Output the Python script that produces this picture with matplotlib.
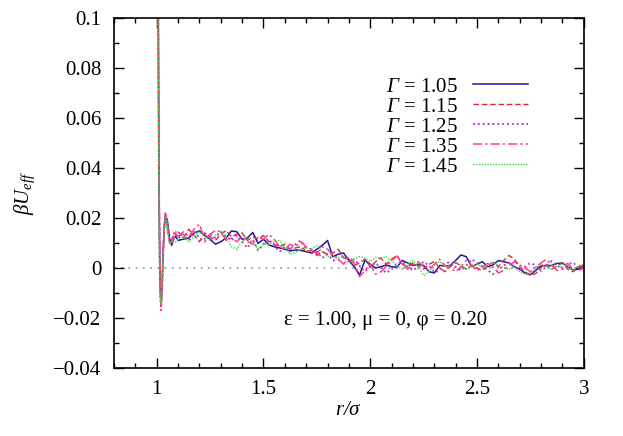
import numpy as np
import matplotlib
matplotlib.use("Agg")
import matplotlib.pyplot as plt
from matplotlib.ticker import MultipleLocator, FuncFormatter

plt.rcParams['font.family'] = ['Liberation Serif', 'DejaVu Serif']
# all math symbols italic (like gnuplot's Times-Italic), incl. capital Gamma
plt.rcParams['mathtext.fontset'] = 'custom'
plt.rcParams['mathtext.rm'] = 'Liberation Serif:italic'
plt.rcParams['mathtext.it'] = 'Liberation Serif:italic'
plt.rcParams['font.size'] = 15

# r/sigma sample points: fine near contact, then every 0.025
r_core = [1.0, 1.005, 1.01, 1.015, 1.02, 1.025, 1.03, 1.035, 1.04, 1.045,
          1.05, 1.06, 1.07, 1.08, 1.09, 1.1]
r_tail = np.round(np.arange(1.125, 3.0001, 0.025), 3)
r = np.concatenate([r_core, r_tail])

gammas = ['1.05', '1.15', '1.25', '1.35', '1.45']

u_105 = [0.35, 0.15, 0.04, -0.005, -0.015, -0.008, 0.006, 0.016, 0.020, 0.020,
         0.019, 0.012, 0.009, 0.012, 0.0125, 0.011,
         0.0115, 0.012, 0.014, 0.0148, 0.013, 0.0115, 0.0095, 0.0105,
         0.012, 0.0148, 0.0145, 0.0115, 0.012, 0.0142, 0.0098, 0.0115,
         0.0092, 0.0085, 0.008, 0.0075, 0.0068, 0.0072, 0.007, 0.0065,
         0.006, 0.0075, 0.009, 0.011, 0.0045, 0.0055, 0.006, 0.003,
         0.0005, -0.0028, 0.003, 0.0015, 0.0, 0.0005, 0.0012, 0.0005,
         0.0003, 0.003, 0.002, 0.001, 0.0015, 0.001, -0.0015, -0.002,
         0.001, 0.0008, 0.001, 0.003, 0.0052, 0.0045, 0.0005, 0.0015,
         0.0025, 0.0005, 0.0012, 0.003, 0.0025, 0.002, 0.0005, -0.0005,
         -0.002, -0.0027, -0.001, 0.001, 0.0008, 0.001, 0.0018, 0.002,
         0.0005, -0.0008, -0.0005, 0.0008]

u_115 = [0.40, 0.16, 0.045, -0.003, -0.013, -0.006, 0.007, 0.017, 0.021, 0.020,
         0.016, 0.010, 0.011, 0.014, 0.013, 0.0145,
         0.012, 0.0155, 0.013, 0.0105, 0.014, 0.0125, 0.011, 0.0135,
         0.015, 0.0125, 0.0135, 0.014, 0.011, 0.0125, 0.0115, 0.013,
         0.0105, 0.0095, 0.0085, 0.0095, 0.0075, 0.008, 0.0085, 0.0065,
         0.007, 0.005, 0.0065, 0.0055, 0.006, 0.0075, 0.004, 0.0035,
         0.001, 0.002, 0.0035, 0.0005, 0.0025, 0.004, 0.0015, 0.0035,
         0.005, 0.0015, 0.0005, 0.002, 0.0008, -0.0005, 0.0015, 0.0025,
         0.0, -0.0015, 0.0005, 0.002, 0.001, -0.0005, 0.0012, 0.0,
         -0.001, 0.001, 0.0022, 0.0005, 0.003, 0.005, 0.0035, 0.0005,
         -0.0015, -0.003, -0.0022, 0.0003, 0.0015, -0.0005, 0.001, 0.002,
         -0.0005, -0.0015, 0.0005, 0.001]

u_125 = [0.38, 0.14, 0.035, -0.008, -0.016, -0.009, 0.004, 0.014, 0.019, 0.020,
         0.017, 0.011, 0.0095, 0.0125, 0.0135, 0.012,
         0.0135, 0.011, 0.0145, 0.012, 0.0105, 0.0135, 0.012, 0.0145,
         0.0125, 0.011, 0.013, 0.0105, 0.008, 0.0115, 0.007, 0.0095,
         0.0115, 0.009, 0.0065, 0.0085, 0.0075, 0.0095, 0.011, 0.0072,
         0.0058, 0.0065, 0.004, 0.0055, 0.003, 0.0032, 0.005, 0.0025,
         0.0035, 0.001, -0.0015, 0.0005, 0.002, 0.0, -0.002, -0.0005,
         0.0018, 0.0025, 0.0005, -0.001, 0.0005, 0.0025, 0.001, -0.0018,
         -0.001, 0.0015, 0.0025, 0.0005, -0.001, 0.001, 0.0035, 0.002,
         0.0005, -0.0008, -0.0025, -0.0008, 0.001, 0.002, 0.0005, -0.001,
         0.0005, 0.002, 0.001, -0.0012, 0.0005, 0.0028, 0.001, -0.0005,
         0.0015, 0.0022, 0.0, 0.0005]

u_135 = [0.42, 0.17, 0.05, -0.002, -0.017, -0.010, 0.005, 0.016, 0.022, 0.021,
         0.017, 0.010, 0.0105, 0.013, 0.0145, 0.0125,
         0.0145, 0.0125, 0.0155, 0.0175, 0.0115, 0.0135, 0.015, 0.0145,
         0.011, 0.012, 0.0105, 0.0125, 0.0105, 0.0095, 0.0125, 0.0115,
         0.0135, 0.0115, 0.0085, 0.0075, 0.0095, 0.0085, 0.0105, 0.0085,
         0.0075, 0.0055, 0.0085, 0.0075, 0.005, 0.0035, 0.0015, 0.0045,
         0.002, -0.0035, -0.001, 0.0015, -0.0025, -0.0015, 0.0005, 0.0028,
         0.0048, 0.002, -0.0005, 0.0012, 0.0025, 0.0005, -0.001, 0.0015,
         0.0035, 0.001, 0.0, -0.0015, 0.0005, 0.003, 0.001, -0.0012,
         0.0005, 0.0018, 0.0003, -0.002, -0.001, 0.001, 0.0025, 0.0012,
         0.0, -0.0015, 0.0005, 0.002, 0.0035, 0.001, -0.001, 0.0005,
         0.0018, -0.0005, -0.0012, 0.0003]

u_145 = [0.36, 0.13, 0.03, -0.010, -0.014, -0.007, 0.006, 0.015, 0.020, 0.0195,
         0.015, 0.0095, 0.0105, 0.0115, 0.0105, 0.0115,
         0.0125, 0.0105, 0.0125, 0.0145, 0.0125, 0.011, 0.013, 0.0145,
         0.0125, 0.0085, 0.0075, 0.0105, 0.0125, 0.0095, 0.0078, 0.0095,
         0.0095, 0.0105, 0.011, 0.0082, 0.0055, 0.0062, 0.0075, 0.008,
         0.0075, 0.009, 0.0065, 0.0045, 0.005, 0.0042, 0.0045, 0.002,
         0.0035, 0.0045, 0.004, 0.0025, 0.0042, 0.004, 0.0045, 0.0028,
         0.001, -0.0005, 0.0015, 0.003, 0.0005, -0.003, -0.0015, 0.0012,
         0.0025, 0.001, 0.0008, 0.0025, 0.001, -0.0005, 0.0005, 0.0015,
         0.0003, 0.001, 0.002, 0.0012, 0.0, -0.0005, 0.0003, -0.0015,
         -0.0025, -0.002, 0.0, 0.0012, 0.0008, -0.0005, 0.0005, 0.0015,
         0.0005, -0.0008, 0.001, 0.0015]

series = [u_105, u_115, u_125, u_135, u_145]
colors = ['#1c1c9c', '#d8283a', '#c040c8', '#ff3c8c', '#38d838']
styles = ['-', (0, (4, 2)), (0, (1, 1.5)), (0, (6, 2, 1.5, 2)), (0, (1, 1))]
widths = [1.1, 1.0, 1.4, 1.1, 1.0]

fig, ax = plt.subplots(figsize=(6.23, 4.36), dpi=100)
plt.subplots_adjust(left=0.183, right=0.937, top=0.959, bottom=0.156)

ax.axhline(0, color='#a0a0a0', lw=1.3, ls=(0, (1, 3)), zorder=1)

for g, u, c, s, w in zip(gammas, series, colors, styles, widths):
    ax.plot(r, u, color=c, ls=s, lw=w, label=r'$\Gamma$ = ' + g)

ax.set_xlim(0.8, 3.0)
ax.set_ylim(-0.04, 0.1)
ax.xaxis.set_major_locator(MultipleLocator(0.5))
ax.xaxis.set_minor_locator(MultipleLocator(0.1))
ax.yaxis.set_major_locator(MultipleLocator(0.02))
ax.yaxis.set_minor_locator(MultipleLocator(0.01))
fmt = FuncFormatter(lambda v, p: ('%g' % round(v, 4)).replace('-', '\u2212'))
ax.xaxis.set_major_formatter(fmt)
ax.yaxis.set_major_formatter(fmt)
ax.tick_params(which='both', direction='in', top=True, right=True, width=1.0)
ax.tick_params(which='major', length=7, pad=9)
ax.tick_params(which='minor', length=3.5)
for sp in ax.spines.values():
    sp.set_linewidth(1.2)

ax.set_xlabel(r'$r/\sigma$', fontsize=15, labelpad=1)
ax.set_ylabel(r'$\beta U_{eff}$', fontsize=15, labelpad=12)

ax.text(2.07, -0.0212, '\u03b5 = 1.00, \u03bc = 0, \u03c6 = 0.20',
        ha='center', va='center', fontsize=15)

ax.legend(loc='upper right', bbox_to_anchor=(0.9, 0.855), frameon=False,
          markerfirst=False, handlelength=2.65, handletextpad=0.75,
          labelspacing=0.02, borderaxespad=0, fontsize=15)

plt.savefig('out.png', dpi=100)
